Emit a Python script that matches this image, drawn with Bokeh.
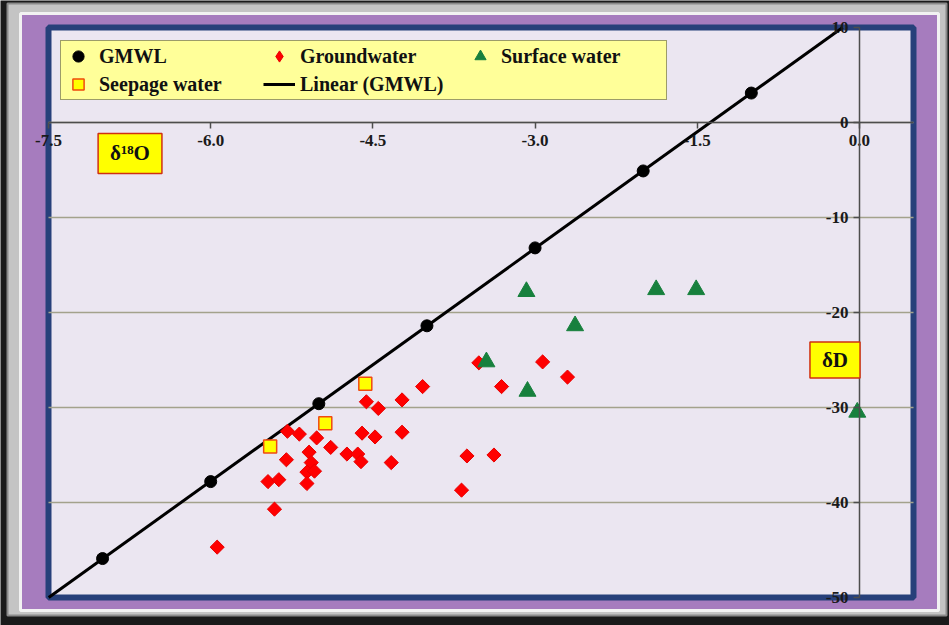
import numpy as np
from bokeh.plotting import figure
from bokeh.models import Range1d, FixedTicker, Legend, LegendItem, Label
from bokeh.embed import file_html
from bokeh.resources import INLINE

# ---------------- data ----------------
gmwl_x = [-7, -6, -5, -4, -3, -2, -1]
gmwl_y = [-45.9, -37.8, -29.6, -21.4, -13.2, -5.1, 3.1]

gw_x = [-5.94, -5.41, -5.47, -5.37, -5.30, -5.29, -5.18, -5.02, -4.89, -5.09, -5.07,
        -5.11, -5.04, -5.11, -4.74, -4.64, -4.61, -4.60, -4.48, -4.33, -4.23, -4.56,
        -4.45, -4.23, -4.04, -3.52, -2.93, -3.31, -2.70, -3.63, -3.38, -3.68]
gw_y = [-44.7, -40.7, -37.8, -37.6, -35.5, -32.5, -32.8, -33.2, -34.2, -34.7, -35.8,
        -36.8, -36.7, -38.0, -34.9, -34.9, -35.7, -32.7, -33.1, -35.8, -32.6, -29.4,
        -30.1, -29.2, -27.8, -25.3, -25.2, -27.8, -26.8, -35.1, -35.0, -38.7]

sw_x = [-3.08, -1.88, -1.51, -2.63, -3.45, -3.07, -0.02]
sw_y = [-17.8, -17.6, -17.6, -21.4, -25.2, -28.3, -30.5]

sp_x = [-5.45, -4.94, -4.57]
sp_y = [-34.1, -31.65, -27.5]

x_ticks = [-7.5, -6.0, -4.5, -3.0, -1.5, 0.0]
x_tick_labels = ["-7.5", "-6.0", "-4.5", "-3.0", "-1.5", "0.0"]
y_ticks = [-50, -40, -30, -20, -10, 0, 10]
y_tick_labels = ["-50", "-40", "-30", "-20", "-10", "0", "10"]

x_lim = (-7.5, 0.5)
y_lim = (-50, 10)

legend_labels = ["GMWL", "Groundwater", "Surface water", "Seepage water", "Linear (GMWL)"]
x_title = "δ¹⁸O"
y_title = "δD"

# ---------------- layout / styling ----------------
FONT = "Liberation Serif"
PURPLE = "#a67cbe"
FRAME_BG = "#ebe6f1"
BLUE = "#27407a"
GRID = "#a3a28c"
TICK_SIZE = "17px"
W, H = 949, 625
# pixel layout of the picture: plot box edges and the decorative bands around it
BOX_L, BOX_R, BOX_T, BOX_B = 48, 913, 27, 597          # blue plot box
PURPLE_L, PURPLE_R, PURPLE_T, PURPLE_B = 20, 938, 13, 610
GREY_L, GREY_R, GREY_T, GREY_B = 7, 946, 3, 615

ux = (x_lim[1] - x_lim[0]) / (BOX_R - BOX_L)
uy = (y_lim[1] - y_lim[0]) / (BOX_B - BOX_T)
x_range = Range1d(x_lim[0] - BOX_L * ux, x_lim[1] + (W - BOX_R) * ux)
y_range = Range1d(y_lim[0] - (H - BOX_B) * uy, y_lim[1] + BOX_T * uy)

def px_x(px):
    return x_range.start + px * ux

def px_y(py):
    return y_range.end - py * uy

p = figure(width=W, height=H, x_range=x_range, y_range=y_range,
           output_backend="svg", toolbar_location=None, title=None,
           min_border_left=0, min_border_right=0, min_border_top=0, min_border_bottom=0,
           background_fill_color="#1a1a1a", border_fill_color="#1a1a1a",
           outline_line_color=None)
p.xgrid.visible = False
p.ygrid.visible = False

# decorative frame: grey bevel, purple band
p.quad(left=[px_x(GREY_L)], right=[px_x(GREY_R)], top=[px_y(GREY_T)], bottom=[px_y(GREY_B)],
       fill_color="#c4c4c4", line_color="#8a8a8a", line_width=2)
p.quad(left=[px_x(PURPLE_L)], right=[px_x(PURPLE_R)], top=[px_y(PURPLE_T)], bottom=[px_y(PURPLE_B)],
       fill_color=PURPLE, line_color="#f2f2f2", line_width=3)

# plot box (lavender with blue border) and horizontal gridlines
p.quad(left=[x_lim[0]], right=[x_lim[1]], bottom=[y_lim[0]], top=[y_lim[1]],
       fill_color=FRAME_BG, line_color=BLUE, line_width=6)
grid_y = [t for t in y_ticks if y_lim[0] < t < y_lim[1]]
p.segment(x0=[x_lim[0]] * len(grid_y), x1=[x_lim[1]] * len(grid_y), y0=grid_y, y1=grid_y,
          line_color=GRID, line_width=1.5)

# axes crossing at the origin
xa = p.xaxis[0]
ya = p.yaxis[0]
xa.fixed_location = 0
ya.fixed_location = 0
xa.bounds = x_lim
ya.bounds = y_lim
xa.ticker = FixedTicker(ticks=x_ticks, minor_ticks=[])
ya.ticker = FixedTicker(ticks=y_ticks, minor_ticks=[])
xa.major_label_overrides = {float(t): s for t, s in zip(x_ticks, x_tick_labels)}
ya.major_label_overrides = {int(t): s for t, s in zip(y_ticks, y_tick_labels)}
for ax in (xa, ya):
    ax.axis_line_color = "#4d4d4d"
    ax.axis_line_width = 1.5
    ax.major_tick_line_color = "#4d4d4d"
    ax.major_tick_line_width = 1.5
    ax.major_tick_in = 0
    ax.major_tick_out = 6
    ax.minor_tick_line_color = None
    ax.major_label_text_font = FONT
    ax.major_label_text_font_style = "bold"
    ax.major_label_text_font_size = TICK_SIZE
    ax.major_label_text_color = "#1a1a1a"
xa.major_label_standoff = 6
ya.major_label_standoff = 5

# GMWL trendline from a least-squares fit of the GMWL points, kept inside the plot box
m, b = np.polyfit(gmwl_x, gmwl_y, 1)
fit_x = np.array([max(x_lim[0], (y_lim[0] - b) / m), min(x_lim[1], (y_lim[1] - b) / m)])
fit_y = m * fit_x + b

r_line = p.line(fit_x, fit_y, line_color="black", line_width=3)
r_gmwl = p.scatter(gmwl_x, gmwl_y, marker="circle", size=12, fill_color="black", line_color="black")
r_gw = p.scatter(gw_x, gw_y, marker="square", size=10, angle=np.pi / 4,
                 fill_color="#ff0000", line_color="#e80000", line_width=1)
r_sp = p.scatter(sp_x, sp_y, marker="square", size=13, fill_color="#ffff00",
                 line_color="#f04a10", line_width=1.5)
r_sw = p.scatter(sw_x, sw_y, marker="triangle", size=17, fill_color="#17803d", line_color="#17803d")
# legend-only key for the diamond (the legend does not rotate markers); NaN keeps it off the plot
r_gw_key = p.scatter(x=[np.nan], y=[np.nan], marker="diamond", size=15,
                     fill_color="#ff0000", line_color="#e80000")

legend = Legend(items=[LegendItem(label=legend_labels[0], renderers=[r_gmwl]),
                       LegendItem(label=legend_labels[1], renderers=[r_gw_key]),
                       LegendItem(label=legend_labels[2], renderers=[r_sw]),
                       LegendItem(label=legend_labels[3], renderers=[r_sp]),
                       LegendItem(label=legend_labels[4], renderers=[r_line])],
                location=(60, H - 100), orientation="horizontal", ncols=3,
                background_fill_color="#ffff99", background_fill_alpha=1,
                border_line_color="#3a3a3a", border_line_width=1.5,
                label_text_font=FONT, label_text_font_style="bold", label_text_font_size="20px",
                label_text_color="#111111",
                padding=1, spacing=0, margin=0, glyph_width=32, glyph_height=28,
                label_height=28, label_width=164, label_standoff=5)
p.add_layout(legend)

p.add_layout(Label(x=-6.746, y=-3.26, text=x_title, text_align="center", text_baseline="middle",
                   text_font=FONT, text_font_style="bold", text_font_size="21px", text_color="#111111",
                   background_fill_color="#ffff00", border_line_color="#d03010",
                   border_line_width=1.5, padding=(12, 8)))
p.add_layout(Label(x=-0.226, y=-25.0, text=y_title, text_align="center", text_baseline="middle",
                   text_font=FONT, text_font_style="bold", text_font_size="21px", text_color="#111111",
                   background_fill_color="#ffff00", border_line_color="#d03010",
                   border_line_width=1.5, padding=(12, 6)))

open("out.html", "w").write(file_html(p, INLINE))
